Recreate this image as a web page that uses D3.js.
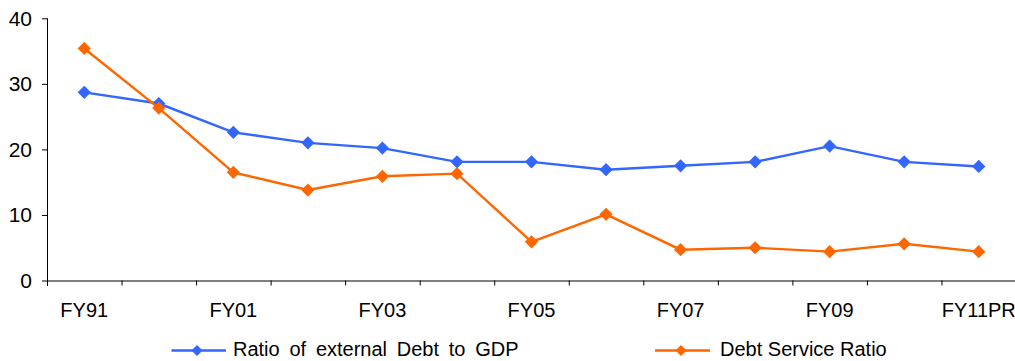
<!DOCTYPE html>
<html>
<head>
<meta charset="utf-8">
<script src="https://cdn.jsdelivr.net/npm/d3@7"></script>
<style>
  html, body { margin: 0; padding: 0; background: #fff; }
  svg { display: block; font-family: "Liberation Sans", Arial, sans-serif; }
</style>
</head>
<body>
<svg id="chart" width="1015" height="361"></svg>
<script>
// Fiscal years on the category axis (every other one is labelled)
const categories = ["FY91", "FY00", "FY01", "FY02", "FY03", "FY04", "FY05",
                    "FY06", "FY07", "FY08", "FY09", "FY10", "FY11PR"];
const labelledCategories = ["FY91", "FY01", "FY03", "FY05", "FY07", "FY09", "FY11PR"];

// External debt to GDP (%)
const debtToGdp = [28.7, 27.0, 22.6, 21.0, 20.2, 18.1, 18.1, 16.9, 17.5, 18.1, 20.5, 18.1, 17.4];
// Debt service ratio (%)
const debtService = [35.4, 26.3, 16.5, 13.8, 15.9, 16.3, 5.9, 10.1, 4.7, 5.0, 4.4, 5.6, 4.4];

const yTicks = [0, 10, 20, 30, 40];

const seriesNames = ["Ratio of external Debt to GDP", "Debt Service Ratio"];
const seriesColors = ["#3366ff", "#ff6600"];

const svg = d3.select("#chart");
const plotLeft = 47, plotRight = 1016, plotTop = 18.3, plotBottom = 280.5;

const x = d3.scaleBand().domain(categories).range([plotLeft, plotRight]).padding(0);
const y = d3.scaleLinear().domain([0, 40]).range([plotBottom, plotTop]);

// Y axis
const yAxis = svg.append("g")
  .attr("transform", `translate(${plotLeft},0)`)
  .call(d3.axisLeft(y).tickValues(yTicks).tickSize(5).tickPadding(10).tickSizeOuter(0));
yAxis.select(".domain").remove();
yAxis.append("line")
  .attr("x1", 0.5).attr("x2", 0.5)
  .attr("y1", y(40)).attr("y2", plotBottom + 5.5)
  .attr("stroke", "#000");
yAxis.selectAll(".tick line").attr("stroke", "#000");
yAxis.selectAll(".tick text")
  .attr("fill", "#000")
  .style("font-size", "21px")
  .style("font-family", "Liberation Sans, Arial, sans-serif");

// X axis: tick marks fall between categories
const xEdges = d3.scaleLinear().domain([0, categories.length]).range([plotLeft, plotRight]);
const xTickAxis = svg.append("g")
  .attr("transform", `translate(0,${plotBottom})`)
  .call(d3.axisBottom(xEdges).tickValues(d3.range(1, categories.length)).tickSize(5)
        .tickFormat("").tickSizeOuter(0));
xTickAxis.select(".domain").attr("stroke", "#000");
xTickAxis.selectAll(".tick line").attr("stroke", "#000");

// X axis labels at category centres
const xLabelAxis = svg.append("g")
  .attr("transform", `translate(0,${plotBottom})`)
  .call(d3.axisBottom(x).tickValues(labelledCategories).tickSize(0).tickPadding(22));
xLabelAxis.select(".domain").remove();
xLabelAxis.selectAll(".tick text")
  .attr("fill", "#000")
  .style("font-size", "20px")
  .style("font-family", "Liberation Sans, Arial, sans-serif");

// Series lines and diamond markers
const diamond = (r) => `M0,${-r}L${r},0L0,${r}L${-r},0Z`;
[debtToGdp, debtService].forEach((vals, k) => {
  const line = d3.line()
    .x((d, i) => x(categories[i]) + x.bandwidth() / 2)
    .y(d => y(d));
  svg.append("path")
    .datum(vals)
    .attr("d", line)
    .attr("fill", "none")
    .attr("stroke", seriesColors[k])
    .attr("stroke-width", 2.4);
  svg.append("g").selectAll("path")
    .data(vals)
    .join("path")
    .attr("transform", (d, i) => `translate(${x(categories[i]) + x.bandwidth() / 2},${y(d)})`)
    .attr("d", diamond(6.6))
    .attr("fill", seriesColors[k]);
});

// Legend
const legendItems = [
  { x1: 171.5, x2: 226, mx: 197, tx: 233, ws: 4.2 },
  { x1: 655, x2: 710, mx: 681, tx: 720, ws: 0 }
];
const legendY = 350.5;
legendItems.forEach((it, k) => {
  const g = svg.append("g");
  g.append("line")
    .attr("x1", it.x1).attr("x2", it.x2)
    .attr("y1", legendY).attr("y2", legendY)
    .attr("stroke", seriesColors[k]).attr("stroke-width", 2.4);
  g.append("path")
    .attr("transform", `translate(${it.mx},${legendY})`)
    .attr("d", diamond(5.5))
    .attr("fill", seriesColors[k]);
  g.append("text")
    .attr("x", it.tx).attr("y", 356)
    .style("font-size", "20px")
    .style("word-spacing", it.ws + "px")
    .attr("fill", "#000")
    .text(seriesNames[k]);
});
</script>
</body>
</html>
